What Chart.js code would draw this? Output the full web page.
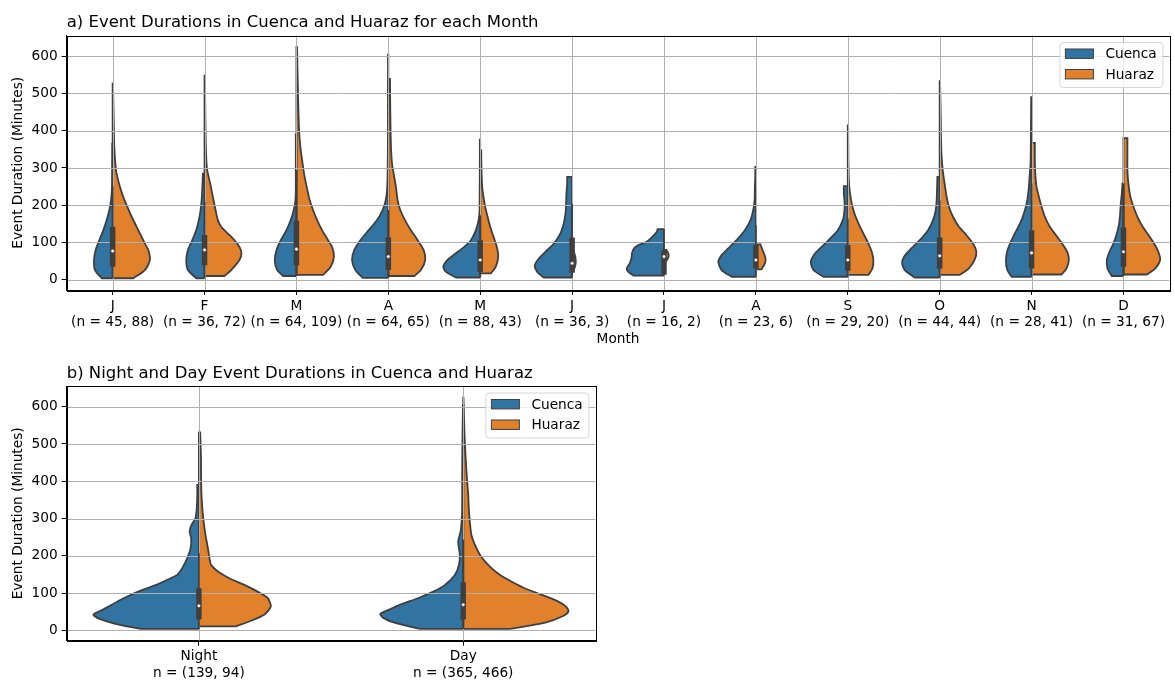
<!DOCTYPE html>
<html>
<head>
<meta charset="utf-8">
<script src="https://cdn.jsdelivr.net/npm/chart.js@4.4.1/dist/chart.umd.min.js"></script>
<style>
  body { margin: 0; background: #fff; }
  canvas { position: absolute; left: 0; }
</style>
</head>
<body>
<canvas id="monthChart" width="1174" height="350" style="top:0"></canvas>
<canvas id="periodChart" width="600" height="330" style="top:350px"></canvas>
<script>
// ---- data ----
const seriesNames = ['Cuenca', 'Huaraz'];
const yTicks = [0, 100, 200, 300, 400, 500, 600];

const monthLabels = ['J', 'F', 'M', 'A', 'M', 'J', 'J', 'A', 'S', 'O', 'N', 'D'];
const cuencaMonthCounts = [45, 36, 64, 64, 88, 36, 16, 23, 29, 44, 28, 31];
const huarazMonthCounts = [88, 72, 109, 65, 43, 3, 2, 6, 20, 44, 41, 67];

// half-violin profiles: [duration, half width in % of category width]
const cuencaMonthProfiles = [
  [[4,12.0],[26,19.2],[53,20.3],[80,18.5],[106,14.5],[133,10.1],[160,6.5],[187,3.6],[213,1.8],[249,0.7],[312,0.5],[365,0.4]],
  [[4,9.1],[26,18.1],[53,19.9],[80,18.1],[106,13.4],[133,9.1],[160,6.2],[187,4.3],[222,2.9],[258,2.2],[285,1.8]],
  [[10,14.5],[26,21.0],[53,23.6],[80,21.7],[106,17.0],[133,10.9],[160,6.2],[187,2.9],[213,1.1],[240,0.7],[294,0.7],[390,0.7]],
  [[5,27.9],[26,35.9],[53,39.5],[80,37.0],[106,30.4],[133,21.4],[160,12.3],[187,6.2],[213,2.9],[240,1.4],[294,0.7],[401,0.4],[604,0.4]],
  [[6,26.4],[21,37.3],[35,40.2],[53,35.5],[71,26.4],[88,17.4],[106,10.1],[133,4.7],[160,1.8],[187,0.7],[376,0.4]],
  [[6,30.8],[21,38.0],[39,40.6],[57,36.2],[75,29.0],[97,19.9],[124,12.7],[151,9.1],[178,7.2],[205,6.5],[231,6.2],[258,5.4],[276,5.4]],
  [[11,33.3],[21,38.8],[30,40.6],[44,37.3],[57,35.5],[71,34.8],[84,32.6],[93,27.9],[102,18.8],[115,12.7],[128,8.0],[136,6.9]],
  [[8,26.4],[26,37.3],[48,40.9],[66,37.3],[84,30.1],[106,21.0],[133,12.0],[160,5.8],[187,2.9],[213,1.4],[249,1.1],[276,0.7],[303,0.7]],
  [[8,26.4],[26,37.3],[48,40.2],[71,35.5],[93,26.4],[115,17.4],[133,10.9],[160,5.4],[187,3.6],[213,3.6],[231,4.3],[251,4.3]],
  [[6,27.2],[26,38.0],[44,40.9],[62,38.8],[84,30.8],[106,21.7],[133,12.7],[160,7.2],[187,4.3],[213,3.3],[240,2.9],[276,2.5]],
  [[8,21.7],[26,26.4],[53,27.9],[80,26.1],[106,21.7],[133,16.3],[160,10.9],[187,7.2],[213,4.7],[249,2.9],[276,2.2],[312,1.1],[401,0.7],[490,0.4]],
  [[10,12.7],[30,17.4],[53,18.1],[75,15.2],[97,10.9],[124,7.2],[151,4.7],[178,3.6],[205,2.9],[231,1.8],[258,1.1]]
];
const huarazMonthProfiles = [
  [[4,22.5],[26,35.1],[53,40.6],[80,38.8],[97,35.1],[115,31.5],[142,26.1],[169,20.7],[196,15.9],[222,11.6],[249,8.0],[276,5.1],[294,3.6],[356,1.8],[437,1.1],[526,0.4]],
  [[10,21.7],[26,29.0],[53,38.0],[71,40.2],[88,38.0],[106,32.6],[124,25.4],[142,18.1],[160,14.5],[187,12.0],[222,9.1],[258,6.2],[294,2.9],[330,1.8],[401,1.1],[548,0.4]],
  [[13,29.0],[35,37.3],[62,40.9],[88,38.8],[106,34.4],[133,27.9],[160,22.5],[187,18.1],[213,14.5],[249,11.2],[285,8.3],[321,6.2],[356,4.3],[401,2.9],[490,1.8],[624,0.7]],
  [[10,28.3],[26,35.5],[53,40.2],[80,38.4],[106,31.9],[133,24.6],[160,18.1],[187,13.0],[213,10.1],[249,8.3],[285,5.8],[312,4.0],[356,2.9],[446,2.2],[539,1.8]],
  [[17,11.6],[35,17.0],[62,19.6],[88,18.1],[115,14.5],[142,10.9],[169,8.0],[196,5.4],[222,3.6],[249,2.2],[294,1.4],[347,1.1]],
  [[30,2.5],[45,4.0],[60,3.6],[75,2.0]],
  [[52,3.0],[62,5.0],[72,4.5],[80,2.5]],
  [[28,6.2],[44,9.8],[57,10.5],[75,8.0],[93,5.1],[95,5.1]],
  [[13,22.5],[30,26.8],[53,27.9],[75,26.1],[97,22.5],[124,17.0],[151,11.6],[178,7.2],[205,4.3],[231,2.5],[258,1.4],[312,0.7],[414,0.4]],
  [[13,21.7],[30,31.5],[53,38.0],[75,39.9],[97,36.2],[120,29.0],[142,21.0],[169,14.5],[196,10.1],[222,7.6],[258,5.4],[294,3.3],[347,1.8],[446,1.1],[533,0.4]],
  [[14,32.6],[30,38.0],[53,40.6],[75,38.8],[97,33.3],[120,26.4],[142,19.9],[169,14.5],[196,10.9],[222,8.0],[249,5.4],[276,4.3],[312,3.6],[367,3.6]],
  [[14,25.4],[30,34.4],[53,39.9],[75,38.0],[97,33.3],[120,27.2],[142,21.0],[169,15.2],[196,10.9],[222,7.6],[258,5.4],[294,4.3],[330,4.3],[380,4.3]]
];
const monthQ1 = [35, 39, 39, 26, 21, 19, 13, 30, 24, 30, 30, 35];
const monthQ3 = [142, 120, 158, 113, 106, 113, 79, 93, 93, 113, 133, 140];
const monthMedian = [77, 80, 82, 62, 53, 44, 62, 53, 53, 64, 72, 75];
const monthWhiskerLow = [4, 4, 10, 5, 6, 6, 11, 8, 8, 6, 8, 10];
const monthWhiskerHigh = [250, 209, 294, 187, 173, 204, 136, 146, 164, 213, 258, 258];

const periodLabels = ['Night', 'Day'];
const cuencaPeriodCounts = [139, 365];
const huarazPeriodCounts = [94, 466];
const cuencaPeriodProfiles = [
  [[4,21.7],[15,29.9],[29,36.8],[42,39.9],[55,36.4],[69,33.0],[87,28.2],[104,23.0],[122,16.1],[140,10.7],[149,8.2],[167,6.3],[194,4.4],[221,3.1],[247,2.9],[265,3.5],[283,2.8],[301,1.3],[328,0.8],[363,0.6],[390,0.6]],
  [[4,16.3],[20,25.7],[33,30.1],[44,31.4],[55,28.2],[69,23.8],[87,16.9],[104,11.3],[122,6.9],[149,3.1],[176,1.6],[203,1.3],[238,1.9],[265,1.0],[292,0.6],[328,0.4],[417,0.4],[506,0.3],[604,0.1]]
];
const huarazPeriodProfiles = [
  [[11,14.1],[24,19.1],[42,24.7],[64,27.2],[87,26.0],[104,22.2],[122,17.2],[140,11.5],[158,7.2],[176,4.6],[194,4.0],[221,3.4],[256,2.5],[292,1.8],[328,1.3],[381,0.9],[462,0.8],[531,0.5]],
  [[4,17.6],[20,30.7],[38,37.6],[51,39.8],[64,38.9],[78,35.8],[96,29.5],[113,23.2],[131,18.2],[149,13.8],[167,10.7],[185,8.2],[203,6.3],[230,4.4],[256,3.1],[292,2.5],[328,2.1],[363,1.9],[399,1.5],[453,1.0],[506,0.6],[569,0.3],[624,0.1]]
];
const periodQ1 = [29, 29];
const periodQ3 = [113, 129];
const periodMedian = [66, 69];
const periodWhiskerLow = [4, 4];
const periodWhiskerHigh = [207, 243];

// ---- styling ----
const blue = '#3274a1';
const orange = '#e1812c';
const edge = '#3f3f3f';
const gridColor = '#b0b0b0';
const fontFamily = '"DejaVu Sans", sans-serif';

Chart.defaults.font.family = fontFamily;
Chart.defaults.font.size = 13.7;
Chart.defaults.color = '#000';

// outline of one half violin, side -1 = left, +1 = right
function halfViolin(center, profile, side) {
  const first = profile[0];
  const last = profile[profile.length - 1];
  const px = w => center + side * w / 100;
  const pts = [];
  pts.push({x: center, y: first[0]}, {x: center, y: first[0]});
  pts.push({x: px(first[1]), y: first[0]}, {x: px(first[1]), y: first[0]});
  for (let k = 1; k < profile.length - 1; k++) {
    pts.push({x: px(profile[k][1]), y: profile[k][0]});
  }
  pts.push({x: px(last[1]), y: last[0]}, {x: px(last[1]), y: last[0]});
  pts.push({x: center, y: last[0]}, {x: center, y: last[0]});
  pts.push({x: center, y: first[0]});
  return pts;
}

function buildDatasets(cuenca, huaraz, q1, q3, med, lo, hi) {
  const sets = [];
  cuenca.forEach((p, i) => sets.push({
    data: halfViolin(i, p, -1), showLine: true, fill: 'shape', tension: 0.25,
    backgroundColor: blue, borderColor: edge, borderWidth: 1.8, pointRadius: 0, order: 2
  }));
  huaraz.forEach((p, i) => sets.push({
    data: halfViolin(i, p, 1), showLine: true, fill: 'shape', tension: 0.25,
    backgroundColor: orange, borderColor: edge, borderWidth: 1.8, pointRadius: 0, order: 2
  }));
  q1.forEach((v, i) => {
    sets.push({
      data: [{x: i, y: lo[i]}, {x: i, y: hi[i]}], showLine: true, borderColor: edge,
      borderWidth: 1.8, pointRadius: 0, order: 1, borderCapStyle: 'butt'
    });
    sets.push({
      data: [{x: i, y: q1[i]}, {x: i, y: q3[i]}], showLine: true, borderColor: edge,
      borderWidth: 5.5, pointRadius: 0, order: 1, borderCapStyle: 'butt'
    });
  });
  sets.push({
    data: med.map((v, i) => ({x: i, y: v})), showLine: false, pointRadius: 1.8,
    pointBackgroundColor: '#fff', pointBorderColor: edge, pointBorderWidth: 0.6, order: 0
  });
  return sets;
}

// grid goes over the violins but under the boxes
const gridPlugin = {
  id: 'gridOver',
  afterDatasetDraw(chart, args) {
    if (args.index !== 0) return;
    const {ctx, chartArea: a, scales: {x, y}} = chart;
    ctx.save();
    ctx.strokeStyle = gridColor;
    ctx.lineWidth = 1;
    ctx.beginPath();
    x.ticks.forEach(t => {
      const p = Math.round(x.getPixelForValue(t.value)) + 0.5;
      ctx.moveTo(p, a.top); ctx.lineTo(p, a.bottom);
    });
    y.ticks.forEach(t => {
      const p = Math.round(y.getPixelForValue(t.value)) + 0.5;
      ctx.moveTo(a.left, p); ctx.lineTo(a.right, p);
    });
    ctx.stroke();
    ctx.restore();
  }
};

const decorPlugin = {
  id: 'panelDecor',
  afterDraw(chart, args, opts) {
    const {ctx, chartArea: a} = chart;
    ctx.save();
    ctx.strokeStyle = '#000';
    ctx.lineWidth = 1;
    ctx.strokeRect(Math.round(a.left) + 0.5, Math.round(a.top) + 0.5,
      Math.round(a.right - a.left), Math.round(a.bottom - a.top));

    ctx.fillStyle = '#000';
    ctx.font = '16.5px ' + fontFamily;
    ctx.textAlign = 'left';
    ctx.textBaseline = 'alphabetic';
    ctx.fillText(opts.title, a.left, a.top - 8.5);

    // legend box
    const bw = 103, bh = 45;
    const bx = a.right - 7 - bw, by = a.top + 6.5;
    ctx.beginPath();
    ctx.roundRect(bx + 0.5, by + 0.5, bw, bh, 3);
    ctx.fillStyle = 'rgba(255,255,255,0.8)';
    ctx.fill();
    ctx.strokeStyle = 'rgba(204,204,204,0.8)';
    ctx.stroke();
    [blue, orange].forEach((c, k) => {
      const cy = by + 11.7 + k * 20.5;
      ctx.fillStyle = c;
      ctx.fillRect(bx + 6, cy - 4.7, 28, 9.4);
      ctx.strokeStyle = edge;
      ctx.lineWidth = 1;
      ctx.strokeRect(bx + 6, cy - 4.7, 28, 9.4);
      ctx.fillStyle = '#000';
      ctx.font = '13.7px ' + fontFamily;
      ctx.textBaseline = 'middle';
      ctx.fillText(seriesNames[k], bx + 46, cy + 1);
    });
    ctx.restore();
  }
};

function makeChart(id, cfg) {
  return new Chart(document.getElementById(id), {
    type: 'scatter',
    data: {datasets: cfg.datasets},
    options: {
      responsive: false,
      animation: false,
      layout: {padding: {top: cfg.top, right: cfg.right, left: 0, bottom: 0}},
      plugins: {
        legend: {display: false},
        tooltip: {enabled: false},
        panelDecor: {title: cfg.title}
      },
      scales: {
        x: {
          type: 'linear',
          min: -0.5,
          max: cfg.labels.length - 0.5,
          afterBuildTicks: s => { s.ticks = cfg.labels.map((l, i) => ({value: i})); },
          afterFit: s => { s.height = cfg.xHeight; },
          ticks: {
            autoSkip: false, maxRotation: 0, padding: 3,
            font: {size: 13.7, lineHeight: 1.2},
            callback: (v, i) => cfg.labels[i]
          },
          grid: {drawOnChartArea: false, tickLength: 5, tickColor: '#000', tickWidth: 1},
          border: {color: '#000', width: 1},
          title: {display: !!cfg.xTitle, text: cfg.xTitle, padding: {top: 0, bottom: 2}}
        },
        y: {
          min: -27.6,
          max: 655.5,
          afterBuildTicks: s => { s.ticks = yTicks.map(v => ({value: v})); },
          afterFit: s => { s.width = 66.7; },
          ticks: {padding: 4, font: {size: 13.7}},
          grid: {drawOnChartArea: false, tickLength: 5, tickColor: '#000', tickWidth: 1},
          border: {color: '#000', width: 1},
          title: {display: true, text: 'Event Duration (Minutes)', padding: {top: 10, bottom: 0}}
        }
      }
    },
    plugins: [gridPlugin, decorPlugin]
  });
}

makeChart('monthChart', {
  title: 'a) Event Durations in Cuenca and Huaraz for each Month',
  labels: monthLabels.map((m, i) => [m, `(n = ${cuencaMonthCounts[i]}, ${huarazMonthCounts[i]})`]),
  datasets: buildDatasets(cuencaMonthProfiles, huarazMonthProfiles, monthQ1, monthQ3,
    monthMedian, monthWhiskerLow, monthWhiskerHigh),
  top: 35.5, right: 2.5, xHeight: 60, xTitle: 'Month'
});

makeChart('periodChart', {
  title: 'b) Night and Day Event Durations in Cuenca and Huaraz',
  labels: periodLabels.map((p, i) => [p, `n = (${cuencaPeriodCounts[i]}, ${huarazPeriodCounts[i]})`]),
  datasets: buildDatasets(cuencaPeriodProfiles, huarazPeriodProfiles, periodQ1, periodQ3,
    periodMedian, periodWhiskerLow, periodWhiskerHigh),
  top: 36, right: 2.3, xHeight: 39.3, xTitle: ''
});
</script>
</body>
</html>
